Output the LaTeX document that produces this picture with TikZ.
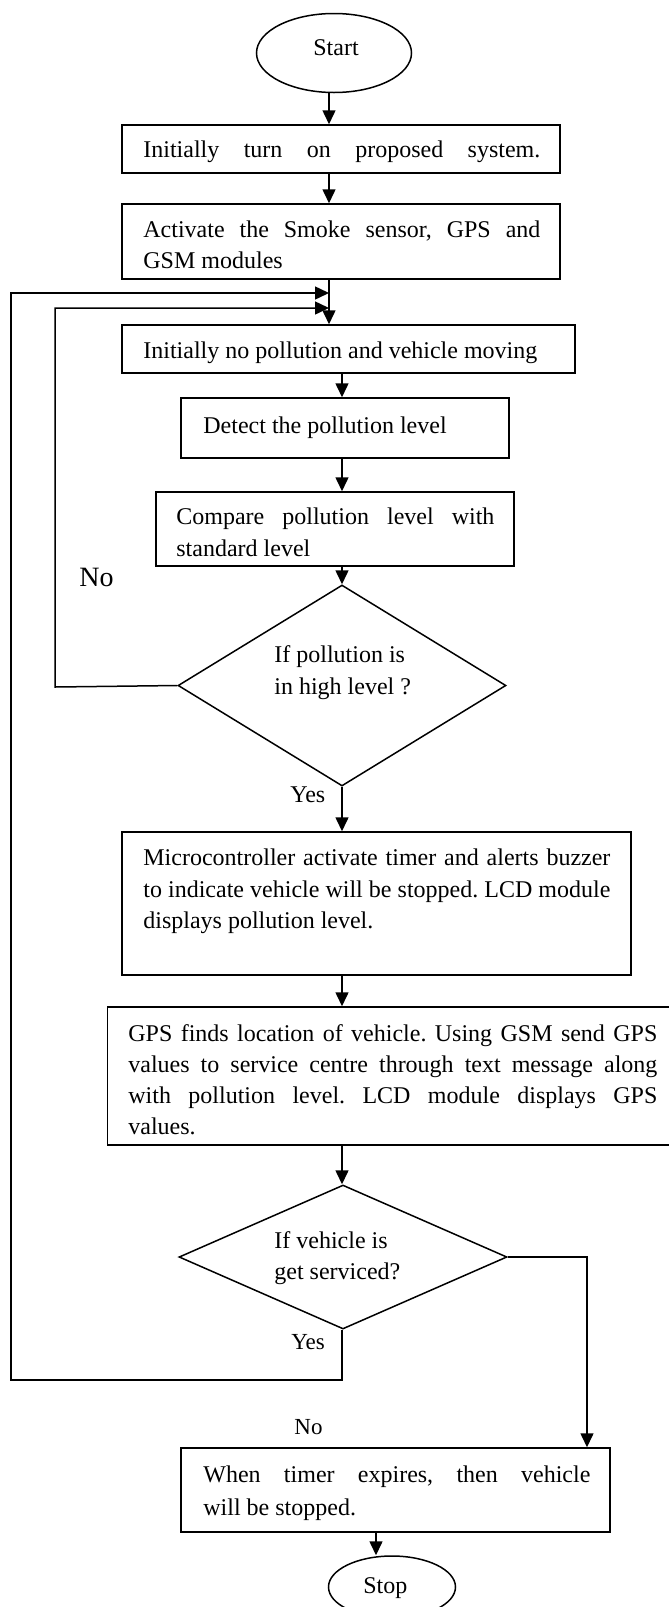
\documentclass[tikz,border=0pt]{standalone}
\usepackage{fontspec}
\setmainfont{Liberation Serif}
\usetikzlibrary{shapes.geometric,arrows.meta}
\frenchspacing
\begin{document}
\begin{tikzpicture}[x=0.5pt,y=-0.5pt,
  box/.style={draw, rectangle, line width=0.75pt, inner sep=0pt},
  term/.style={draw, ellipse, line width=0.75pt, inner sep=0pt},
  dec/.style={draw, diamond, line width=0.75pt, inner sep=0pt},
  txt/.style={anchor=base west, inner sep=0pt, font=\fontsize{12}{14}\selectfont},
  conn/.style={line width=0.75pt},
  arr/.style={conn, -{Triangle[length=7pt,width=6.5pt]}}]
\useasboundingbox (0,0) rectangle (669,1607);
\clip (0,0) rectangle (669,1607);
% trunk x positions
\coordinate (xa) at (329,0);
\coordinate (xb) at (342,0);
\coordinate (xc) at (376,0);
% shapes
\node[term, minimum width=77.5pt, minimum height=39.5pt] (start) at (334,53) {};
\node[box, minimum width=219pt, minimum height=24pt] (b1) at (341,149) {};
\node[box, minimum width=219pt, minimum height=37.5pt] (b2) at (341,241.5) {};
\node[box, minimum width=226.5pt, minimum height=24pt] (b3) at (348.5,349) {};
\node[box, minimum width=164pt, minimum height=30pt] (b4) at (345,428) {};
\node[box, minimum width=179pt, minimum height=37pt] (b5) at (335,529) {};
\node[dec, minimum width=164pt, minimum height=100.5pt] (d1) at (342,685.5) {};
\node[box, minimum width=254.5pt, minimum height=71.5pt] (b6) at (376.5,903.5) {};
\node[box, minimum width=286.25pt, minimum height=69pt] (b7) at (393.75,1076) {};
\node[dec, minimum width=164pt, minimum height=72pt] (d2) at (343,1257) {};
\node[box, minimum width=214.5pt, minimum height=42pt] (b8) at (395.5,1490) {};
\node[term, minimum width=63.5pt, minimum height=31pt] (stop) at (392,1587) {};
% texts
\node[txt] (tstart) at (313,55) {Start};
\node[txt] (t1) at (143,157) {\makebox[198.5pt][s]{Initially turn on proposed system.}};
\node[txt] (t2a) at (143,237) {\makebox[198.5pt][s]{Activate the Smoke sensor, GPS and}};
\node[txt] (t2b) at (143,268) {GSM modules};
\node[txt] (t3) at (143,358) {Initially no pollution and vehicle moving};
\node[txt] (t4) at (203,433) {Detect the pollution level};
\node[txt] (t5a) at (176,524) {\makebox[159pt][s]{Compare pollution level with}};
\node[txt] (t5b) at (176,556) {standard level};
\node[txt] (td1a) at (274,662) {If pollution is};
\node[txt] (td1b) at (274,694) {in high level ?};
\node[txt] (t6a) at (143,865) {\makebox[233.5pt][s]{Microcontroller activate timer and alerts buzzer}};
\node[txt] (t6b) at (143,897) {\makebox[233.5pt][s]{to indicate vehicle will be stopped. LCD module}};
\node[txt] (t6c) at (143,928) {displays pollution level.};
\node[txt] (t7a) at (128,1041) {\makebox[264.5pt][s]{GPS finds location of vehicle. Using GSM send GPS}};
\node[txt] (t7b) at (128,1072) {\makebox[264.5pt][s]{values to service centre through text message along}};
\node[txt] (t7c) at (128,1103) {\makebox[264.5pt][s]{with pollution level. LCD module displays GPS}};
\node[txt] (t7d) at (128,1134) {values.};
\node[txt] (td2a) at (274,1248) {If vehicle is};
\node[txt] (td2b) at (274,1279) {get serviced?};
\node[txt] (t8a) at (203,1482) {\makebox[193.5pt][s]{When timer expires, then vehicle}};
\node[txt] (t8b) at (203,1515) {will be stopped.};
\node[txt] (tstop) at (363,1593) {Stop};
% branch labels
\node[txt, font=\fontsize{14}{16}\selectfont] (lno1) at (79,586) {No};
\node[txt] (lyes1) at (290,802) {Yes};
\node[txt, font=\fontsize{11.5}{14}\selectfont] (lyes2) at (291,1349) {Yes};
\node[txt, font=\fontsize{11.5}{14}\selectfont] (lno2) at (294,1434) {No};
% loop corner coordinates
\coordinate (in1) at (55,687);
\coordinate (in2) at (55,308);
\coordinate (out0) at (342,1380);
\coordinate (out1) at (11,1380);
\coordinate (out2) at (11,293);
\coordinate (r1) at (587,1257);
% main flow
\draw[arr] (start.south -| xa) -- (b1.north -| xa);
\draw[arr] (b1.south -| xa) -- (b2.north -| xa);
\draw[arr] (b2.south -| xa) -- (b3.north -| xa);
\draw[arr] (b3.south -| xb) -- (b4.north -| xb);
\draw[arr] (b4.south -| xb) -- (b5.north -| xb);
\draw[arr] (b5.south -| xb) -- (d1.north -| xb);
\draw[arr] (d1.south -| xb) -- (b6.north -| xb);
\draw[arr] (b6.south -| xb) -- (b7.north -| xb);
\draw[arr] (b7.south -| xb) -- (d2.north -| xb);
\draw[arr] (b8.south -| xc) -- (stop.north -| xc);
% No loop from first decision
\draw[arr] (d1.west) -- (in1) -- (in2) -- (in2 -| xa);
% Yes loop from second decision
\draw[arr] (d2.south -| xb) -- (out0) -- (out1) -- (out2) -- (out2 -| xa);
% No branch of second decision
\draw[arr] (d2.east) -- (r1) -- (r1 |- b8.north);
\end{tikzpicture}
\end{document}
